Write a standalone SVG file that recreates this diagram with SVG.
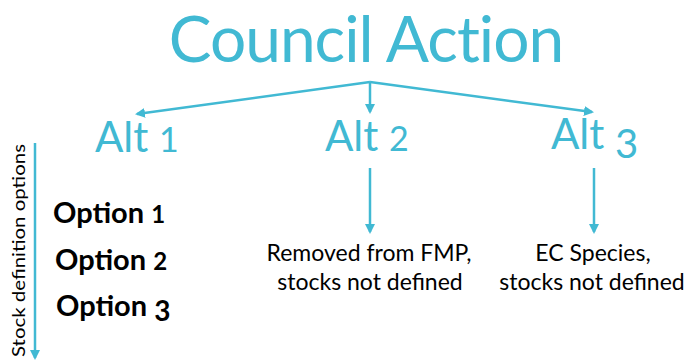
<svg xmlns="http://www.w3.org/2000/svg" width="691" height="360" viewBox="0 0 691 360">
<defs>
<style>
.t{fill:#41B9D3;font-family:Lato,"Open Sans","Liberation Sans",sans-serif}
.opt{fill:#000;font-family:Lato,"Open Sans","Liberation Sans",sans-serif;font-weight:bold;font-size:29px}
.lbl{fill:#000;font-family:Lato,"Open Sans","Liberation Sans",sans-serif;font-size:23px;text-anchor:middle}
.c{stroke:#41B9D3;stroke-width:2.5;fill:none;marker-end:url(#ah)}
</style>
<marker id="ah" viewBox="0 0 10 10" refX="8" refY="5" markerWidth="4" markerHeight="4" orient="auto" markerUnits="strokeWidth">
<path d="M0,0 L10,5 L0,10 z" fill="#41B9D3"/>
</marker>
</defs>
<rect width="691" height="360" fill="#fff"/>
<g id="council"><text class="t" x="366" y="62" font-size="64" letter-spacing="-1" text-anchor="middle">Council Action</text></g>
<g id="alt1"><text class="t" x="95" y="152" font-size="42">Alt <tspan font-size="34">1</tspan></text></g>
<g id="alt2"><text class="t" x="325" y="151" font-size="42">Alt <tspan font-size="34">2</tspan></text></g>
<g id="alt3"><text class="t" x="551" y="149" font-size="42">Alt <tspan font-size="40" dy="9">3</tspan></text></g>
<g id="out2"><text class="lbl" x="369" y="261">Removed from FMP,</text><text class="lbl" x="370" y="290">stocks not defined</text></g>
<g id="out3"><text class="lbl" x="593" y="261">EC Species,</text><text class="lbl" x="592" y="290">stocks not defined</text></g>
<g id="options">
<text class="opt" x="53" y="223">Option <tspan font-size="24">1</tspan></text>
<text class="opt" x="55" y="270">Option <tspan font-size="24">2</tspan></text>
<text class="opt" x="56" y="316">Option <tspan font-size="28" dy="5">3</tspan></text>
</g>
<g id="axis">
<text fill="#000" font-family="Lato,'Open Sans','Liberation Sans',sans-serif" font-size="17" transform="translate(25,357) rotate(-90)" textLength="213" lengthAdjust="spacingAndGlyphs">Stock definition options</text>
</g>
<g id="connectors">
<path class="c" d="M370,82 L137,114"/>
<path class="c" d="M370,82 L370,112"/>
<path class="c" d="M370,82 L592,112"/>
<path class="c" d="M370,168 L370,232"/>
<path class="c" d="M594,168 L594,232"/>
<path class="c" d="M35,143 L35,358"/>
</g>
</svg>
